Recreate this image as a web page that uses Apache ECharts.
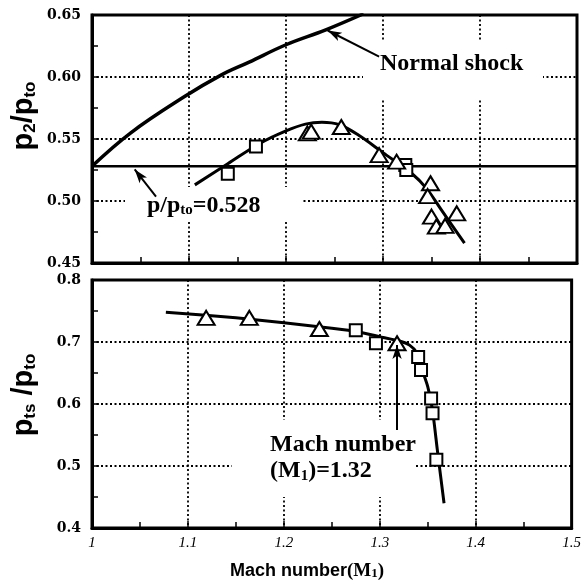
<!DOCTYPE html>
<html><head><meta charset="utf-8">
<script src="https://cdn.jsdelivr.net/npm/echarts@6/dist/echarts.min.js"></script>
<style>html,body{margin:0;padding:0;background:#fff}#c{width:584px;height:585px}</style>
</head><body><div id="c"></div>
<script>
// ---- data ----
const normalShock = [[1.0,0.528],[1.04,0.555],[1.095,0.584],[1.133,0.6015],[1.162,0.612],[1.2,0.626],[1.241,0.638],[1.28,0.651]];
const sonicLine = [[1.0,0.528],[1.5,0.528]];
const topFit = [[1.106,0.513],[1.14,0.530],[1.172,0.546],[1.2,0.5565],[1.22,0.562],[1.237,0.5635],[1.255,0.5615],[1.275,0.553],[1.30,0.539],[1.33,0.522],[1.345,0.510],[1.36,0.493],[1.384,0.466]];
const topSquares = [[1.140,0.522],[1.169,0.544],[1.323,0.529],[1.324,0.525]];
const topTriangles = [[1.222,0.5545],[1.226,0.556],[1.257,0.5597],[1.296,0.537],[1.314,0.5317],[1.349,0.5143],[1.346,0.504],[1.350,0.4874],[1.376,0.490],[1.355,0.4794],[1.364,0.480]];
const bottomFit = [[1.077,0.748],[1.15,0.739],[1.2,0.731],[1.25,0.722],[1.275,0.717],[1.30,0.7085],[1.323,0.7005],[1.331,0.695],[1.338,0.684],[1.343,0.660],[1.350,0.628],[1.355,0.590],[1.360,0.526],[1.367,0.44]];
const bottomSquares = [[1.275,0.719],[1.296,0.698],[1.340,0.676],[1.343,0.655],[1.3535,0.609],[1.355,0.585],[1.359,0.510]];
const bottomTriangles = [[1.119,0.739],[1.164,0.739],[1.237,0.721],[1.318,0.698]];
const xTickLabels = ['1','1.1','1.2','1.3','1.4','1.5'];
const topYTickLabels = ['0.45','0.50','0.55','0.60','0.65'];
const bottomYTickLabels = ['0.4','0.5','0.6','0.7','0.8'];

const chart = echarts.init(document.getElementById('c'), null, {renderer:'canvas'});
const black = '#000';
const dotted = {show:true, lineStyle:{color:black, width:1.8, type:[2,2.5]}};
function xAxis(gridIndex, showLabels){
  return {type:'value', gridIndex, min:1, max:1.5, interval:0.1,
    axisLine:{show:true, onZero:false, lineStyle:{color:black,width:3}},
    axisTick:{show:true, inside:true, length:7, lineStyle:{color:black,width:1.5}},
    minorTick:{show:true, splitNumber:2, length:6, lineStyle:{color:black,width:1.5}},
    splitLine:dotted,
    axisLabel:{show:showLabels, margin:8, color:black, fontFamily:'Liberation Serif', fontStyle:'italic', fontSize:15,
      formatter:v=>xTickLabels[Math.round((v-1)/0.1)]}
  };
}
function yAxis(gridIndex, min, max, interval, labels){
  return {type:'value', gridIndex, min, max, interval,
    axisLine:{show:true, onZero:false, lineStyle:{color:black,width:3}},
    axisTick:{show:true, inside:true, length:7, lineStyle:{color:black,width:1.5}},
    minorTick:{show:true, splitNumber:2, length:6, lineStyle:{color:black,width:1.5}},
    splitLine:dotted,
    axisLabel:{margin:11, color:black, fontFamily:'DejaVu Serif', fontWeight:'bold', fontSize:14,
      formatter:v=>labels[Math.round((v-min)/interval)]}
  };
}
const markStyle = {color:'#fff', borderColor:black, borderWidth:2, opacity:1};
const arrowLine = {color:black, width:2, type:'solid', opacity:1};
function arrow(from, to){
  return [{coord:from, symbol:'none'},{coord:to, symbol:'arrow', symbolSize:[7,14]}];
}
const sub = {fontSize:17, fontWeight:'bold', fontFamily:'Liberation Sans', verticalAlign:'bottom'};
const subSerif = {fontSize:15, fontWeight:'bold', fontFamily:'Liberation Serif', verticalAlign:'bottom'};
const annFont = 'bold 24px "Liberation Serif"';

chart.setOption({
  animation:false,
  backgroundColor:'#fff',
  grid:[
    {left:92, top:15, width:485, height:248, show:true, borderColor:black, borderWidth:3, backgroundColor:'transparent'},
    {left:92, top:280, width:485, height:248, show:true, borderColor:black, borderWidth:3, backgroundColor:'transparent'}
  ],
  xAxis:[xAxis(0,false), xAxis(1,true)],
  yAxis:[yAxis(0,0.45,0.65,0.05,topYTickLabels), yAxis(1,0.4,0.8,0.1,bottomYTickLabels)],
  series:[
    {type:'line', xAxisIndex:0, yAxisIndex:0, data:normalShock, smooth:0.4, symbol:'none', lineStyle:{color:black,width:3.5},
      markLine:{silent:true, symbol:['none','arrow'], label:{show:false}, lineStyle:arrowLine, emphasis:{disabled:true},
        data:[arrow([1.296,0.6165],[1.243,0.6375]), arrow([1.066,0.5035],[1.044,0.5255])]}},
    {type:'line', xAxisIndex:0, yAxisIndex:0, data:sonicLine, symbol:'none', lineStyle:{color:black,width:2.5}},
    {type:'line', xAxisIndex:0, yAxisIndex:0, data:topFit, smooth:0.35, symbol:'none', lineStyle:{color:black,width:3}},
    {type:'scatter', xAxisIndex:0, yAxisIndex:0, data:topSquares, symbol:'rect', symbolSize:12, itemStyle:markStyle, z:3},
    {type:'scatter', xAxisIndex:0, yAxisIndex:0, data:topTriangles, symbol:'triangle', symbolSize:[17,14], itemStyle:markStyle, z:3},
    {type:'line', xAxisIndex:1, yAxisIndex:1, data:bottomFit, smooth:0.2, symbol:'none', lineStyle:{color:black,width:3},
      markLine:{silent:true, symbol:['none','arrow'], label:{show:false}, lineStyle:arrowLine, emphasis:{disabled:true},
        data:[arrow([1.318,0.558],[1.318,0.695])]}},
    {type:'scatter', xAxisIndex:1, yAxisIndex:1, data:bottomSquares, symbol:'rect', symbolSize:12, itemStyle:markStyle, z:3},
    {type:'scatter', xAxisIndex:1, yAxisIndex:1, data:bottomTriangles, symbol:'triangle', symbolSize:[17,14], itemStyle:markStyle, z:3}
  ],
  graphic:[
    // gaps in the dotted grid behind annotations
    {type:'rect', z:1, shape:{x:363, y:40, width:180, height:58}, style:{fill:'#fff'}},
    {type:'rect', z:1, shape:{x:125, y:187, width:177, height:34}, style:{fill:'#fff'}},
    {type:'rect', z:1, shape:{x:232, y:420, width:183, height:77}, style:{fill:'#fff'}},
    // annotations
    {type:'text', z:5, x:380, y:64, style:{text:'Normal shock', font:annFont, fill:black, verticalAlign:'middle'}},
    {type:'text', z:5, x:147, y:206, style:{text:'p/p{s|to}=0.528', font:annFont, fill:black, verticalAlign:'middle', rich:{s:subSerif}}},
    {type:'text', z:5, x:270, y:432, style:{text:'Mach number\n(M{s|1})=1.32', font:annFont, fill:black, lineHeight:26, rich:{s:subSerif}}},
    // axis titles
    {type:'text', z:5, x:24, y:116, rotation:Math.PI/2, style:{text:'p{s|2}/p{s|to}', font:'bold 29px "Liberation Sans"', fill:black, align:'center', verticalAlign:'middle', rich:{s:sub}}},
    {type:'text', z:5, x:24, y:395, rotation:Math.PI/2, style:{text:'p{s|ts} /p{s|to}', font:'bold 29px "Liberation Sans"', fill:black, align:'center', verticalAlign:'middle', rich:{s:sub}}},
    {type:'text', z:5, x:230, y:571, style:{text:'Mach number{m|(M}{s|1}{m|)}', font:'bold 18px "Liberation Sans"', fill:black, verticalAlign:'middle',
      rich:{m:{fontSize:19, fontWeight:'bold', fontFamily:'Liberation Serif'}, s:{fontSize:13, fontWeight:'bold', fontFamily:'Liberation Serif', verticalAlign:'bottom'}}}}
  ]
});
</script></body></html>
